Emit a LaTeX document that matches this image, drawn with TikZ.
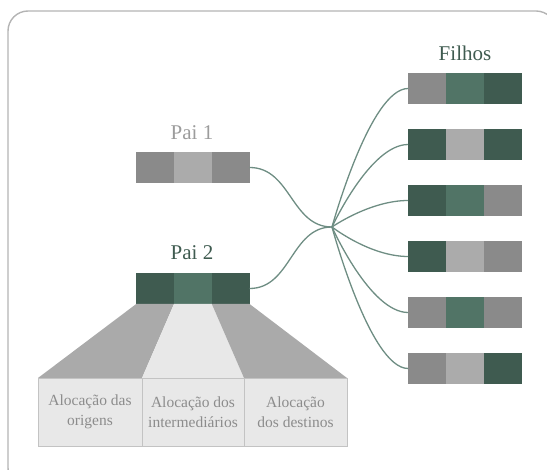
\documentclass[tikz,border=0pt]{standalone}
\usepackage{fontspec}
\setmainfont{Liberation Serif}
\newfontfamily\labelfont{Liberation Serif}
\definecolor{gdark}{HTML}{3F5B50}
\definecolor{gmid}{HTML}{517466}
\definecolor{ggray}{HTML}{8A8A8A}
\definecolor{glight}{HTML}{ABABAB}
\definecolor{link}{HTML}{6E8D83}
\definecolor{frame}{HTML}{B4B4B4}
\definecolor{panel}{HTML}{E8E8E8}
\definecolor{wedge}{HTML}{AAAAAA}
\definecolor{caption}{HTML}{8C8C8C}
\tikzset{
  cell/.style={minimum width=37.8pt, minimum height=31pt, inner sep=0pt, outer sep=0pt},
  title/.style={font=\labelfont\fontsize{21}{24}\selectfont, inner sep=0pt},
  alloc/.style={draw=frame!80, fill=panel, line width=0.8pt, minimum width=102pt,
    minimum height=68pt, inner sep=0pt, align=center, text=caption,
    font=\labelfont\fontsize{15.5}{20.5}\selectfont},
  linkline/.style={draw=link, line width=1.3pt},
}
\begin{document}
\begin{tikzpicture}[x=1pt,y=-1pt]
\useasboundingbox (0,0) rectangle (547,470);
\clip (0,0) rectangle (547,470);

% outer frame (runs past the right and bottom edges)
\draw[frame, line width=1.4pt, rounded corners=20pt] (8,11) rectangle (556,488);

% titles
\node[title, text=ggray!85] (t1) at (192,133) {Pai 1};
\node[title, text=gdark] (t2) at (192,253) {Pai 2};
\node[title, text=gdark] (tf) at (465,53) {Filhos};

% parent 1
\node[cell, fill=ggray]  (p1a) at (155.1,167.5) {};
\node[cell, fill=glight] (p1b) at (192.9,167.5) {};
\node[cell, fill=ggray]  (p1c) at (230.7,167.5) {};
% parent 2
\node[cell, fill=gdark] (p2a) at (155.1,288.5) {};
\node[cell, fill=gmid]  (p2b) at (192.9,288.5) {};
\node[cell, fill=gdark] (p2c) at (230.7,288.5) {};

% allocation wedges below parent 2
\fill[wedge] (p2a.south west) -- (p2a.south east) -- (142,378) -- (38,378) -- cycle;
\fill[panel] (p2b.south west) -- (p2b.south east) -- (244,378) -- (142,378) -- cycle;
\fill[wedge] (p2c.south west) -- (p2c.south east) -- (347,378) -- (244,378) -- cycle;

% allocation boxes
\node[alloc, minimum width=104pt] (al1) at (90,412) {Alocação das\\origens};
\node[alloc] (al2) at (193,412) {Alocação dos\\intermediários};
\node[alloc, minimum width=103pt] (al3) at (295.5,412) {Alocação\\dos destinos};

% children
\foreach \r/\y/\ca/\cb/\cc in {1/88.5/ggray/gmid/gdark,
                               2/144.5/gdark/glight/gdark,
                               3/200.5/gdark/gmid/ggray,
                               4/256.5/gdark/glight/ggray,
                               5/312.5/ggray/gmid/ggray,
                               6/368.5/ggray/glight/gdark}{
  \node[cell, fill=\ca] (c\r a) at (427,\y) {};
  \node[cell, fill=\cb] (c\r b) at (464.8,\y) {};
  \node[cell, fill=\cc] (c\r c) at (502.6,\y) {};
}

% crossover hub and links
\coordinate (hub) at (332,227);
\draw[linkline] (p1c.east) .. controls (291,167.5) and (291,227) .. (hub);
\draw[linkline] (p2c.east) .. controls (291,288.5) and (291,227) .. (hub);
\foreach \r/\y in {1/88.5,2/144.5,3/200.5,4/256.5,5/312.5,6/368.5}{
  \draw[linkline] (hub) .. controls (hub) and (370,\y) .. (c\r a.west);
}
\end{tikzpicture}
\end{document}
